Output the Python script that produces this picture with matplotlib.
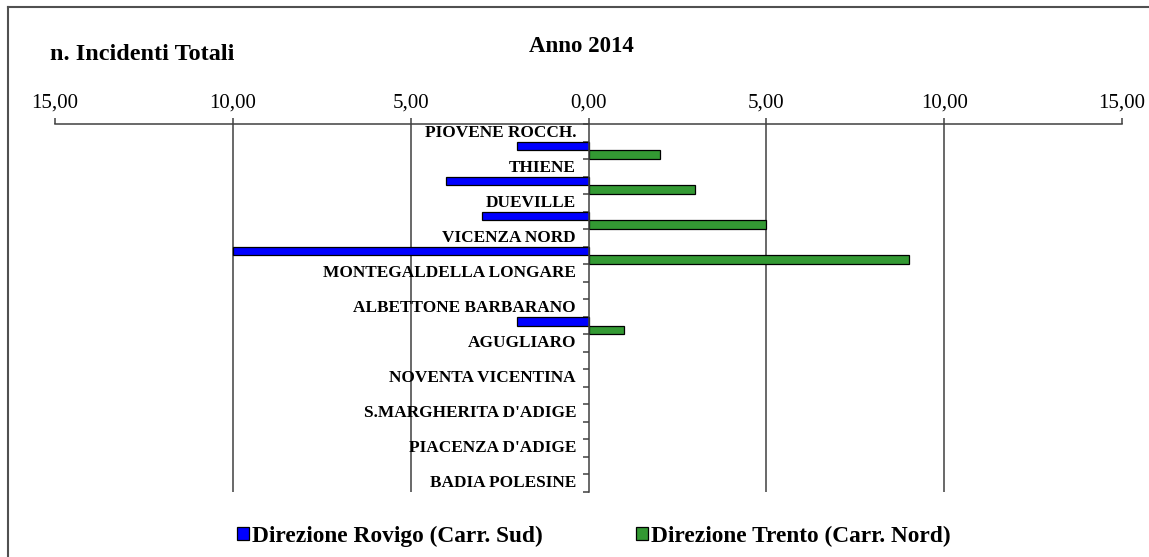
import matplotlib
matplotlib.use("Agg")
import matplotlib.pyplot as plt
from matplotlib.patches import Patch
from matplotlib.lines import Line2D
from matplotlib.ticker import FuncFormatter

# data
caselli = ["PIOVENE ROCCH.", "THIENE", "DUEVILLE", "VICENZA NORD",
           "MONTEGALDELLA LONGARE", "ALBETTONE BARBARANO", "AGUGLIARO",
           "NOVENTA VICENTINA", "S.MARGHERITA D'ADIGE", "PIACENZA D'ADIGE",
           "BADIA POLESINE"]
rovigo = [2, 4, 3, 10, 0, 2, 0, 0, 0, 0, 0]   # Direzione Rovigo (Carr. Sud)
trento = [2, 3, 5, 9, 0, 1, 0, 0, 0, 0, 0]    # Direzione Trento (Carr. Nord)
xticks = [-15, -10, -5, 0, 5, 10, 15]

plt.rcParams['font.family'] = ['Liberation Serif', 'DejaVu Serif']
axcol = '#404040'

fig = plt.figure(figsize=(11.49, 5.57), dpi=100)
ax = fig.add_axes([55/1149, 1-492/557, (1122-55)/1149, (492-124)/557])

for i in range(len(caselli)):
    if rovigo[i]:
        ax.barh(2*i + 1, -rovigo[i], height=0.5, align='edge', color='#0000FF',
                edgecolor='black', linewidth=0.9, zorder=3)
    if trento[i]:
        ax.barh(2*i + 1.5, trento[i], height=0.5, align='edge', color='#339933',
                edgecolor='black', linewidth=0.9, zorder=3)
    ax.text(-0.35, 2*i + 0.5, caselli[i], ha='right', va='center',
            fontsize=12.4, fontweight='bold', zorder=4)

ax.set_xlim(-15, 15)
ax.set_ylim(21, 0)

ax.set_xticks(xticks)
ax.xaxis.set_major_formatter(FuncFormatter(lambda v, p: f"{abs(v):.2f}".replace('.', ',')))
ax.xaxis.tick_top()
ax.tick_params(axis='x', direction='out', length=4.5, width=1.1, color=axcol,
               labelsize=15, pad=4)
ax.xaxis.grid(True, color=axcol, linewidth=1.1)
gl = ax.get_xgridlines()
for k in (0, 3, len(gl) - 1):
    gl[k].set_visible(False)

ax.set_yticks(range(22))
ax.set_yticklabels([])
ax.tick_params(axis='y', direction='out', length=4, width=1.1, color=axcol)
ax.spines['left'].set_position(('data', 0))
ax.spines['left'].set_color(axcol)
ax.spines['left'].set_linewidth(1.1)
ax.spines['left'].set_zorder(5)
ax.spines['top'].set_color(axcol)
ax.spines['top'].set_linewidth(1.1)
ax.spines['bottom'].set_visible(False)
ax.spines['right'].set_visible(False)
ax.set_axisbelow(True)

fig.text(50/1149, 1-55/557, "n. Incidenti Totali", fontsize=17.5, fontweight='bold',
         ha='left', va='center')
fig.text(581/1149, 1-46/557, "Anno 2014", fontsize=16.5, fontweight='bold',
         ha='center', va='center')

# frame of the chart area
fig.add_artist(Line2D([8/1149, 1], [1-7/557, 1-7/557], color='#505050', linewidth=1.5))
fig.add_artist(Line2D([8/1149, 8/1149], [0, 1-7/557], color='#505050', linewidth=1.5))

handles = [Patch(facecolor='#0000FF', edgecolor='black', linewidth=0.9),
           Patch(facecolor='#339933', edgecolor='black', linewidth=0.9)]
fig.legend(handles, ["Direzione Rovigo (Carr. Sud)", "Direzione Trento (Carr. Nord)"],
           loc='center', bbox_to_anchor=(594/1149, 1-536/557), ncol=2, frameon=False,
           prop={'weight': 'bold', 'size': 16.8}, handlelength=0.5, handleheight=0.5,
           handletextpad=0.15, columnspacing=4.0)

fig.savefig("out.png", dpi=100)
